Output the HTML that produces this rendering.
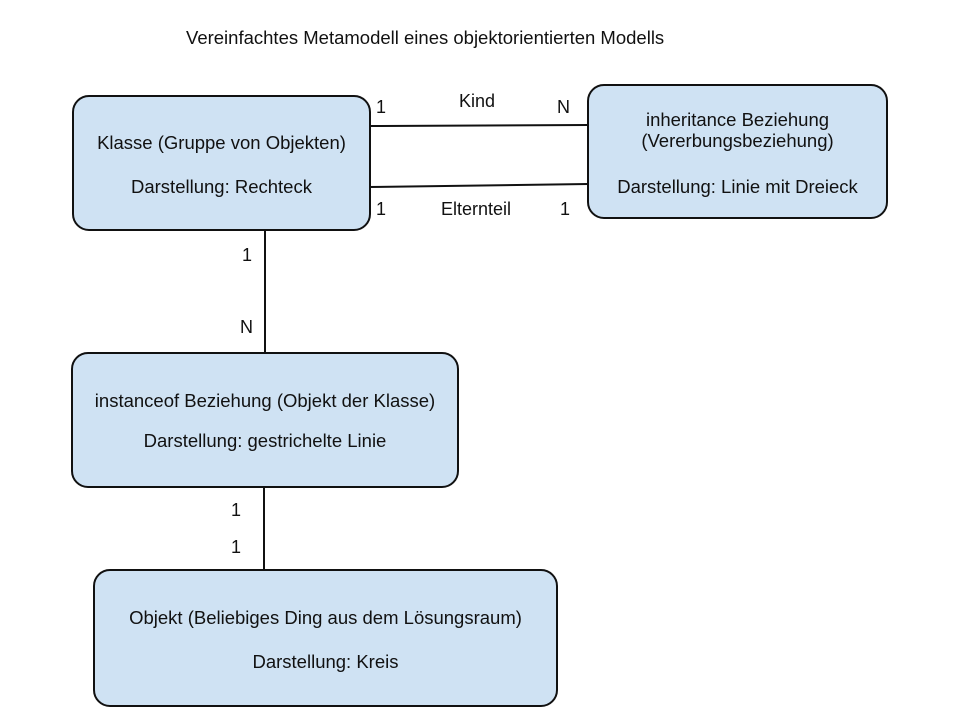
<!DOCTYPE html>
<html><head><style>
body{margin:0;width:960px;height:720px;background:#fff;position:relative;font-family:"Liberation Sans",sans-serif;color:#111;overflow:hidden}
.b{position:absolute;background:#cfe2f3;border:2px solid #111;border-radius:17px;box-sizing:border-box;text-align:center;font-size:18.5px;line-height:21px}
.t{position:absolute;font-size:18px;line-height:21px}
</style></head><body>
<div class="t" style="left:186px;top:27px;font-size:18.5px">Vereinfachtes Metamodell eines objektorientierten Modells</div>
<svg width="960" height="720" style="position:absolute;left:0;top:0">
<g stroke="#111" stroke-width="2">
<line x1="369" y1="126" x2="588" y2="125"/>
<line x1="369" y1="187" x2="588" y2="184"/>
<line x1="265" y1="229" x2="265" y2="353"/>
<line x1="264" y1="486" x2="264" y2="570"/>
</g></svg>
<div class="b" style="left:72px;top:95px;width:299px;height:136px"><div style="position:absolute;left:0;right:0;top:35px">Klasse (Gruppe von Objekten)</div><div style="position:absolute;left:0;right:0;top:79px">Darstellung: Rechteck</div></div>
<div class="b" style="left:587px;top:84px;width:301px;height:135px"><div style="position:absolute;left:0;right:0;top:23px">inheritance Beziehung<br>(Vererbungsbeziehung)</div><div style="position:absolute;left:0;right:0;top:90px">Darstellung: Linie mit Dreieck</div></div>
<div class="b" style="left:71px;top:352px;width:388px;height:136px"><div style="position:absolute;left:0;right:0;top:36px">instanceof Beziehung (Objekt der Klasse)</div><div style="position:absolute;left:0;right:0;top:76px">Darstellung: gestrichelte Linie</div></div>
<div class="b" style="left:93px;top:569px;width:465px;height:138px"><div style="position:absolute;left:0;right:0;top:36px">Objekt (Beliebiges Ding aus dem Lösungsraum)</div><div style="position:absolute;left:0;right:0;top:80px">Darstellung: Kreis</div></div>
<div class="t" style="left:376px;top:97px">1</div>
<div class="t" style="left:459px;top:91px">Kind</div>
<div class="t" style="left:557px;top:97px">N</div>
<div class="t" style="left:376px;top:199px">1</div>
<div class="t" style="left:441px;top:199px">Elternteil</div>
<div class="t" style="left:560px;top:199px">1</div>
<div class="t" style="left:242px;top:245px">1</div>
<div class="t" style="left:240px;top:317px">N</div>
<div class="t" style="left:231px;top:500px">1</div>
<div class="t" style="left:231px;top:537px">1</div>
</body></html>
